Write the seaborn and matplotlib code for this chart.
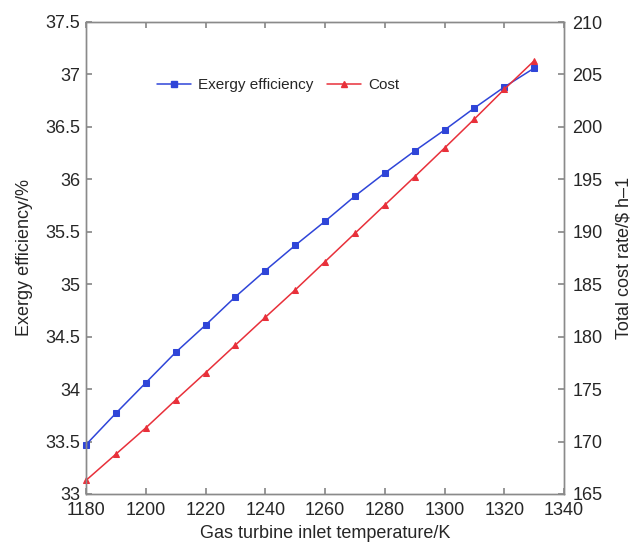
import matplotlib
matplotlib.use("Agg")
import matplotlib.pyplot as plt
import seaborn as sns
import pandas as pd
from matplotlib.ticker import FuncFormatter
from matplotlib.lines import Line2D

temperature = [1180, 1190, 1200, 1210, 1220, 1230, 1240, 1250,
               1260, 1270, 1280, 1290, 1300, 1310, 1320, 1330]
exergy_efficiency = [33.47, 33.77, 34.06, 34.35, 34.61, 34.88, 35.13, 35.37,
                     35.60, 35.84, 36.06, 36.27, 36.47, 36.68, 36.88, 37.06]
cost = [166.3, 168.8, 171.3, 173.96, 176.56, 179.2, 181.84, 184.45,
        187.15, 189.85, 192.55, 195.25, 197.98, 200.75, 203.58, 206.3]

x_ticks = [1180, 1200, 1220, 1240, 1260, 1280, 1300, 1320, 1340]
left_ticks = [33, 33.5, 34, 34.5, 35, 35.5, 36, 36.5, 37, 37.5]
right_ticks = [165, 170, 175, 180, 185, 190, 195, 200, 205, 210]

df = pd.DataFrame({"T": temperature, "eff": exergy_efficiency, "cost": cost})

sns.set_theme(style="white")
plt.rcParams["font.family"] = ["Liberation Sans", "DejaVu Sans"]

blue = "#2f45d8"
red = "#e8303a"

fig = plt.figure(figsize=(6.41, 5.51), dpi=100)
ax = fig.add_axes([86 / 641, 1 - 494 / 551, (564 - 86) / 641, (494 - 22) / 551])
ax2 = ax.twinx()

sns.lineplot(data=df, x="T", y="eff", ax=ax, color=blue, marker="s",
             markersize=4.2, markeredgecolor=blue, linewidth=1.1, clip_on=False)
sns.lineplot(data=df, x="T", y="cost", ax=ax2, color=red, marker="^",
             markersize=5, markeredgecolor=red, linewidth=1.1, clip_on=False)

ax.set_xlim(1180, 1340)
ax.set_ylim(33, 37.5)
ax2.set_ylim(165, 210)
ax.set_xticks(x_ticks)
ax.set_yticks(left_ticks)
ax2.set_yticks(right_ticks)
ax.yaxis.set_major_formatter(FuncFormatter(lambda v, p: f"{v:g}"))

fs = 13
ax.set_xlabel("Gas turbine inlet temperature/K", fontsize=fs, labelpad=4)
ax.set_ylabel("Exergy efficiency/%", fontsize=fs, labelpad=9)
ax2.set_ylabel("Total cost rate/\\$ h\u20131", fontsize=fs, labelpad=9)

for a in (ax, ax2):
    for s in a.spines.values():
        s.set_color("#8a8a8a")
        s.set_linewidth(1.0)
ax.tick_params(axis="both", direction="in", length=4, color="#8a8a8a",
               labelsize=fs, top=True, bottom=True, left=True, pad=4)
ax2.tick_params(axis="y", direction="in", length=4, color="#8a8a8a",
                labelsize=fs, right=True, pad=6)
ax.tick_params(axis="x", pad=6)

handles = [
    Line2D([], [], color=blue, marker="s", markersize=4.2, linewidth=1.1),
    Line2D([], [], color=red, marker="^", markersize=5, linewidth=1.1),
]
leg = ax.legend(handles, ["Exergy efficiency", "Cost"], ncol=2, frameon=False,
                loc="center left", bbox_to_anchor=(0.12, 0.866),
                fontsize=11, handlelength=2.2, columnspacing=0.9,
                handletextpad=0.5)
if ax2.get_legend():
    ax2.get_legend().remove()

fig.savefig("out.png", dpi=100)
